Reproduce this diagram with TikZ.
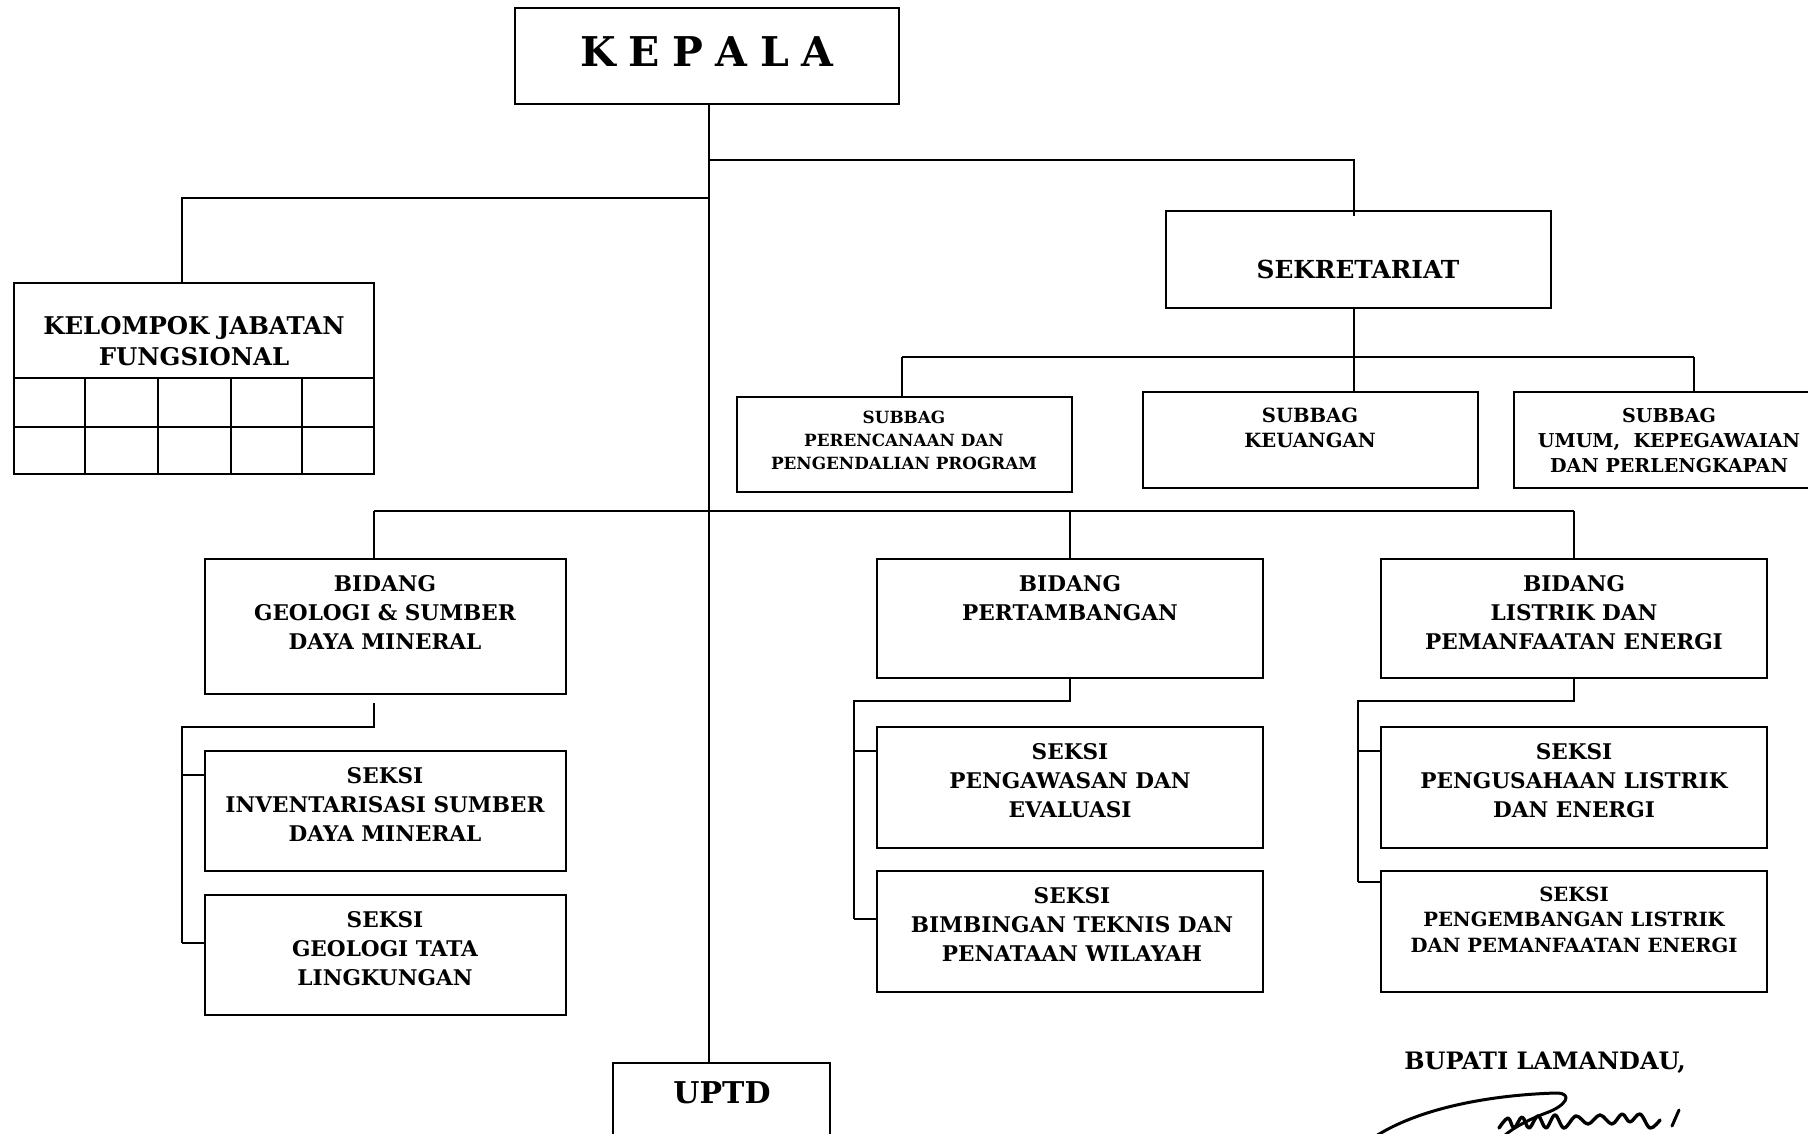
\documentclass[tikz,border=0pt]{standalone}
\usepackage{fontspec}
\setmainfont{DejaVu Serif}
\newcommand\orgbox[5]{%
  \node[box, minimum width={(#4-#2)*0.5pt}, minimum height={(#5-#3)*0.5pt}]
    (#1) at ({(#2+#4)/2},{(#3+#5)/2}) {};}
\begin{document}
\begin{tikzpicture}[x=0.5pt,y=-0.5pt,
  box/.style={draw, line width=0.8pt, rectangle, inner sep=0pt, outer sep=0pt},
  link/.style={line width=0.8pt},
  lbl/.style={anchor=north, align=center, inner sep=0pt, outer sep=0pt,
              font=\bfseries\fontsize{10.8}{14.5}\selectfont},
  lblsmall/.style={lbl, font=\bfseries\fontsize{8.4}{11.5}\selectfont},
  lblmid/.style={lbl, font=\bfseries\fontsize{9.8}{12.3}\selectfont},
  sign/.style={line width=1.5pt, line cap=round, line join=round}]
\useasboundingbox (0,0) rectangle (1808,1134);
\clip (0,0) rectangle (1808,1134);

% boxes
\orgbox{kepala}{515}{8}{899}{104}
\orgbox{sekre}{1166}{211}{1551}{308}
\orgbox{kjf}{14}{283}{374}{474}
\orgbox{subA}{737}{397}{1072}{492}
\orgbox{subB}{1143}{392}{1478}{488}
\orgbox{subC}{1514}{392}{1840}{488}
\orgbox{bidA}{205}{559}{566}{694}
\orgbox{bidB}{877}{559}{1263}{678}
\orgbox{bidC}{1381}{559}{1767}{678}
\orgbox{sekA1}{205}{751}{566}{871}
\orgbox{sekA2}{205}{895}{566}{1015}
\orgbox{sekB1}{877}{727}{1263}{848}
\orgbox{sekB2}{877}{871}{1263}{992}
\orgbox{sekC1}{1381}{727}{1767}{848}
\orgbox{sekC2}{1381}{871}{1767}{992}
\orgbox{uptd}{613}{1063}{830}{1170}

% grid of the functional group box
\draw[link] (kjf.west |- 0,378) -- (kjf.east |- 0,378);
\draw[link] (kjf.west |- 0,427) -- (kjf.east |- 0,427);
\foreach \cx in {85,158,231,302}
  \draw[link] (\cx,378) -- (\cx,474);

% main trunk
\coordinate (trunk) at (709,104);
\draw[link] (trunk) -- (trunk |- uptd.north);
% to secretariat
\coordinate (jS) at (709,160);
\draw[link] (jS) -- (1354,160) -- (1354,216);
% to functional group
\coordinate (jK) at (709,198);
\draw[link] (jK) -- (182,198) -- (182 ,283);
% secretariat bus
\coordinate (sb) at (1354,357);
\draw[link] (1354,308) -- (sb);
\draw[link] (902,357) -- (1694,357);
\draw[link] (902,357) -- (902,397);
\draw[link] (sb) -- (1354,392);
\draw[link] (1694,357) -- (1694,392);
% bidang bus
\draw[link] (374,511) -- (1574,511);
\draw[link] (374,511) -- (374,559);
\draw[link] (1070,511) -- (1070,559);
\draw[link] (1574,511) -- (1574,559);
% bidang A sections
\draw[link] (374,703) -- (374,727) -- (182,727) -- (182,943);
\draw[link] (182,775) -- (205,775);
\draw[link] (182,943) -- (205,943);
% bidang B sections
\draw[link] (1070,678) -- (1070,701) -- (854,701) -- (854,919);
\draw[link] (854,751) -- (877,751);
\draw[link] (854,919) -- (877,919);
% bidang C sections
\draw[link] (1574,678) -- (1574,701) -- (1358,701) -- (1358,882);
\draw[link] (1358,751) -- (1381,751);
\draw[link] (1358,882) -- (1381,882);

% labels
\node[lbl, font=\bfseries\fontsize{20.5}{24}\selectfont] (tKepala) at (707,37)
  {K\hspace{6.3pt}E\hspace{6.3pt}P\hspace{6.3pt}A\hspace{6.3pt}L\hspace{6.3pt}A};
\node[lbl, font=\bfseries\fontsize{12.4}{15}\selectfont] (tSekre) at (1358,260) {SEKRETARIAT};
\node[lbl, font=\bfseries\fontsize{12.2}{15.5}\selectfont] (tKjf) at (194,316) {KELOMPOK JABATAN\\FUNGSIONAL};
\node[lblsmall] (tSubA) at (904,411) {SUBBAG\\PERENCANAAN DAN\\PENGENDALIAN PROGRAM};
\node[lblmid] (tSubB) at (1310,408) {SUBBAG\\KEUANGAN};
\node[lblmid, font=\bfseries\fontsize{9.55}{12.6}\selectfont] (tSubC) at (1669,408) {SUBBAG\\UMUM,\ \ KEPEGAWAIAN\\DAN PERLENGKAPAN};
\node[lbl] (tBidA) at (385,575) {BIDANG\\GEOLOGI \& SUMBER\\DAYA MINERAL};
\node[lbl] (tBidB) at (1070,575) {BIDANG\\PERTAMBANGAN};
\node[lbl] (tBidC) at (1574,575) {BIDANG\\LISTRIK DAN\\PEMANFAATAN ENERGI};
\node[lbl] (tSekA1) at (385,767) {SEKSI\\INVENTARISASI SUMBER\\DAYA MINERAL};
\node[lbl] (tSekA2) at (385,911) {SEKSI\\GEOLOGI TATA\\LINGKUNGAN};
\node[lbl] (tSekB1) at (1070,743) {SEKSI\\PENGAWASAN DAN\\EVALUASI};
\node[lbl] (tSekB2) at (1072,887) {SEKSI\\BIMBINGAN TEKNIS DAN\\PENATAAN WILAYAH};
\node[lbl] (tSekC1) at (1574,743) {SEKSI\\PENGUSAHAAN LISTRIK\\DAN ENERGI};
\node[lblmid, font=\bfseries\fontsize{9.8}{12.7}\selectfont] (tSekC2) at (1574,887) {SEKSI\\PENGEMBANGAN LISTRIK\\DAN PEMANFAATAN ENERGI};
\node[lbl, font=\bfseries\fontsize{15}{18}\selectfont] (tUptd) at (722,1082) {UPTD};
\node[lbl, font=\bfseries\fontsize{12}{14}\selectfont] (tBupati) at (1545,1052) {BUPATI LAMANDAU,};

% signature
\draw[sign] (1376,1136) .. controls (1420,1108) and (1490,1095) .. (1556,1093)
  .. controls (1574,1093) and (1566,1106) .. (1546,1113)
  .. controls (1530,1119) and (1514,1127) .. (1504,1136);
\draw[sign, line width=1.7pt] plot[smooth, tension=0.6] coordinates {
  (1499,1128) (1508,1118) (1514,1128) (1522,1117) (1529,1128) (1538,1116)
  (1546,1128) (1555,1115) (1564,1128) (1576,1116) (1588,1124) (1600,1115)
  (1612,1124) (1622,1114) (1630,1122) (1640,1114) (1650,1128) (1660,1120)};
\draw[sign] (1672,1126) -- (1679,1110);
\end{tikzpicture}
\end{document}
